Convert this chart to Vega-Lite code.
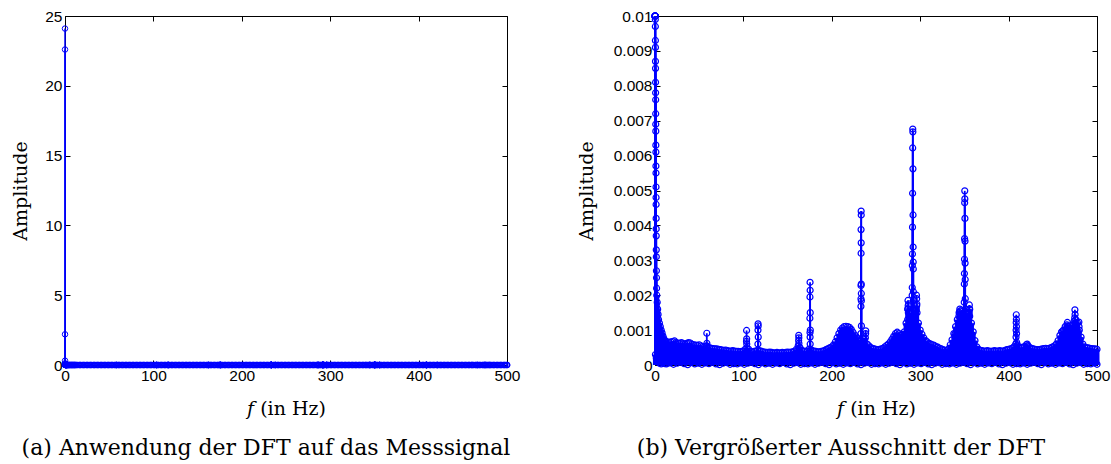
{
"$schema": "https://vega.github.io/schema/vega-lite/v6.json",
"background": "white",
"padding": {"left": 10, "top": 8, "right": 5, "bottom": 5},
"bounds": "flush",
"spacing": 148,
"config": {
  "view": {"stroke": "black", "strokeWidth": 1},
  "axis": {"domain": false, "grid": false, "ticks": true, "tickColor": "black", "tickSize": -5, "tickWidth": 1,
           "labelFont": "Liberation Sans", "labelFontSize": 15.5, "labelColor": "black", "labelPadding": 8, "labelFlush": false, "labelOverlap": false,
           "titleFont": "DejaVu Serif", "titleFontSize": 19, "titleFontWeight": "normal", "titleColor": "black"},
  "title": {"font": "DejaVu Serif", "fontSize": 22, "fontWeight": "normal", "color": "black"}
},
"datasets": {
"peaks": [
{"f":0,"a":24.1},{"f":0.02,"a":22.6},{"f":0.04,"a":2.2},{"f":0.06,"a":0.31},{"f":0.08,"a":0.12},{"f":0.1,"a":0.058},{"f":0.15,"a":0.031},{"f":0.2,"a":0.019},{"f":0.25,"a":0.0142},{"f":0.3,"a":0.0113},
{"f":0.35,"a":0.0099},{"f":0.4,"a":0.0097},{"f":0.45,"a":0.0093},{"f":0.5,"a":0.0091},{"f":0.55,"a":0.0087},{"f":0.6,"a":0.0085},{"f":0.65,"a":0.0081},{"f":0.7,"a":0.0078},{"f":0.75,"a":0.0076},{"f":0.8,"a":0.0072},
{"f":0.85,"a":0.0069},{"f":0.9,"a":0.0067},{"f":0.95,"a":0.0063},{"f":1.0,"a":0.0061},{"f":1.05,"a":0.0057},{"f":1.1,"a":0.0055},{"f":1.15,"a":0.0051},{"f":1.2,"a":0.0048},{"f":1.25,"a":0.0046},{"f":1.3,"a":0.0042},
{"f":1.35,"a":0.0039},{"f":1.4,"a":0.0037},{"f":1.45,"a":0.0033},{"f":1.5,"a":0.0031},{"f":1.6,"a":0.0027},{"f":1.7,"a":0.0025},{"f":1.8,"a":0.0022},
{"f":58.6,"a":0.00091},{"f":58.7,"a":0.00062},{"f":58.5,"a":0.00055},
{"f":103.6,"a":0.00099},{"f":103.7,"a":0.00075},{"f":103.5,"a":0.00068},{"f":103.8,"a":0.0006},
{"f":116.6,"a":0.00118},{"f":116.7,"a":0.00112},{"f":116.5,"a":0.001},{"f":116.8,"a":0.0008},{"f":116.4,"a":0.0006},
{"f":162.6,"a":0.00085},{"f":162.7,"a":0.00078},{"f":162.5,"a":0.0007},{"f":162.8,"a":0.00062},
{"f":175.4,"a":0.00237},{"f":175.5,"a":0.00214},{"f":175.3,"a":0.00195},{"f":175.6,"a":0.0015},{"f":175.2,"a":0.00134},{"f":175.7,"a":0.001},{"f":175.35,"a":0.00093},{"f":175.45,"a":0.0008},{"f":175.55,"a":0.0006},
{"f":233.2,"a":0.00441},{"f":233.3,"a":0.0043},{"f":233.1,"a":0.00388},{"f":233.25,"a":0.0035},{"f":233.15,"a":0.0032},{"f":233.35,"a":0.00232},{"f":233.05,"a":0.00228},{"f":233.4,"a":0.00205},{"f":233.0,"a":0.0019},{"f":233.45,"a":0.00184},{"f":232.95,"a":0.00168},{"f":233.5,"a":0.00112},{"f":232.9,"a":0.0009},
{"f":238.4,"a":0.00098},{"f":238.3,"a":0.0009},
{"f":286.2,"a":0.00185},{"f":286.4,"a":0.0017},{"f":286.0,"a":0.0016},{"f":286.6,"a":0.0015},{"f":285.8,"a":0.0013},{"f":287,"a":0.00175},{"f":287.4,"a":0.0014},
{"f":291.6,"a":0.00676},{"f":291.7,"a":0.00668},{"f":291.5,"a":0.00622},{"f":291.8,"a":0.00562},{"f":291.4,"a":0.00492},{"f":291.9,"a":0.0043},{"f":291.3,"a":0.00395},{"f":292,"a":0.00338},{"f":291.2,"a":0.00318},{"f":292.1,"a":0.00295},{"f":291.1,"a":0.00285},{"f":292.2,"a":0.00275},{"f":291,"a":0.00222},{"f":292.3,"a":0.0021},{"f":290.9,"a":0.002},{"f":292.4,"a":0.00185},
{"f":295.8,"a":0.002},{"f":296,"a":0.0019},{"f":296.2,"a":0.00175},{"f":295.6,"a":0.0016},{"f":296.4,"a":0.0015},
{"f":339.5,"a":0.0009},{"f":344.8,"a":0.0016},{"f":345.2,"a":0.00155},{"f":344.5,"a":0.0015},{"f":343.8,"a":0.0014},
{"f":350.4,"a":0.00499},{"f":350.5,"a":0.00476},{"f":350.3,"a":0.00465},{"f":350.6,"a":0.0042},{"f":350.2,"a":0.00362},{"f":350.7,"a":0.00355},{"f":350.1,"a":0.00303},{"f":350.8,"a":0.00292},{"f":350,"a":0.00262},{"f":350.9,"a":0.00245},{"f":349.9,"a":0.00232},{"f":351,"a":0.0019},{"f":349.8,"a":0.0018},{"f":351.1,"a":0.0016},
{"f":355.6,"a":0.00172},{"f":355.8,"a":0.0016},{"f":355.4,"a":0.0015},{"f":356,"a":0.0014},
{"f":408.7,"a":0.00144},{"f":408.8,"a":0.00131},{"f":408.6,"a":0.00122},{"f":408.9,"a":0.0011},{"f":408.5,"a":0.001},{"f":409,"a":0.0009},{"f":408.4,"a":0.0008},{"f":409.1,"a":0.00065},
{"f":421,"a":0.0006},{"f":421.2,"a":0.00055},{"f":460.3,"a":0.00095},{"f":466.5,"a":0.00122},{"f":466.7,"a":0.0011},
{"f":475,"a":0.00158},{"f":475.2,"a":0.00145},{"f":474.8,"a":0.00135},{"f":475.4,"a":0.0012},{"f":479.5,"a":0.00123},{"f":479.7,"a":0.0011}
],
"floor": [
{"f":2,"a":0.002},{"f":2.5,"a":0.0018},{"f":3,"a":0.0016},{"f":3.5,"a":0.00145},{"f":4,"a":0.0013},{"f":5,"a":0.0012},{"f":6,"a":0.0011},{"f":7,"a":0.001},{"f":8,"a":0.00092},{"f":9,"a":0.00083},{"f":10,"a":0.00076},{"f":11,"a":0.0007},
{"f":0.5,"a":0.0003},{"f":1.5,"a":0.0002},{"f":3,"a":0.0001},{"f":5,"a":0.00005},{"f":7,"a":0.00003},{"f":9,"a":0.00006},{"f":11,"a":0.00004},
{"f":12,"a":0.00068},{"f":14,"a":0.00066},{"f":16,"a":0.00065},{"f":18,"a":0.00066},{"f":20,"a":0.00067},{"f":22,"a":0.00069},{"f":24,"a":0.00064},{"f":26,"a":0.00063},{"f":28,"a":0.00062},{"f":30,"a":0.00064},
{"f":32,"a":0.00061},{"f":34,"a":0.0006},{"f":36,"a":0.00062},{"f":38,"a":0.00064},{"f":40,"a":0.00063},{"f":42,"a":0.00059},{"f":44,"a":0.00058},{"f":46,"a":0.00057},{"f":48,"a":0.00056},{"f":50,"a":0.00058},
{"f":52,"a":0.00055},{"f":54,"a":0.00053},{"f":56,"a":0.00052},{"f":58,"a":0.00054},{"f":60,"a":0.00051},{"f":62,"a":0.00049},{"f":64,"a":0.00048},{"f":66,"a":0.00047},{"f":68,"a":0.00046},{"f":70,"a":0.00046},
{"f":72,"a":0.00045},{"f":74,"a":0.00044},{"f":76,"a":0.00043},{"f":78,"a":0.00042},{"f":80,"a":0.00043},{"f":82,"a":0.00041},{"f":84,"a":0.0004},{"f":86,"a":0.0004},{"f":88,"a":0.00041},{"f":90,"a":0.0004},
{"f":92,"a":0.00039},{"f":94,"a":0.00039},{"f":96,"a":0.00038},{"f":98,"a":0.00039},{"f":100,"a":0.0004},{"f":102,"a":0.00045},{"f":104,"a":0.0005},{"f":106,"a":0.00045},{"f":108,"a":0.00039},{"f":110,"a":0.00038},
{"f":112,"a":0.00039},{"f":114,"a":0.0004},{"f":116,"a":0.00042},{"f":118,"a":0.00041},{"f":120,"a":0.0004},{"f":122,"a":0.00038},{"f":124,"a":0.00037},{"f":126,"a":0.00036},{"f":128,"a":0.00036},{"f":130,"a":0.00037},
{"f":132,"a":0.00036},{"f":134,"a":0.00035},{"f":136,"a":0.00035},{"f":138,"a":0.00036},{"f":140,"a":0.00035},{"f":142,"a":0.00035},{"f":144,"a":0.00036},{"f":146,"a":0.00035},{"f":148,"a":0.00036},{"f":150,"a":0.00037},
{"f":152,"a":0.00036},{"f":154,"a":0.00037},{"f":156,"a":0.00038},{"f":158,"a":0.0004},{"f":160,"a":0.00045},{"f":162,"a":0.00055},{"f":164,"a":0.0005},{"f":166,"a":0.00042},{"f":168,"a":0.0004},{"f":170,"a":0.00039},
{"f":172,"a":0.0004},{"f":174,"a":0.00045},{"f":176,"a":0.00045},{"f":178,"a":0.00041},{"f":180,"a":0.0004},{"f":182,"a":0.00039},{"f":184,"a":0.00038},{"f":186,"a":0.00038},{"f":188,"a":0.00039},{"f":190,"a":0.0004},
{"f":192,"a":0.00042},{"f":194,"a":0.00045},{"f":196,"a":0.00047},{"f":198,"a":0.0005},{"f":200,"a":0.00052},{"f":202,"a":0.00058},{"f":204,"a":0.00066},{"f":206,"a":0.00078},{"f":208,"a":0.0009},{"f":210,"a":0.001},
{"f":212,"a":0.00106},{"f":214,"a":0.0011},{"f":216,"a":0.00111},{"f":218,"a":0.0011},{"f":220,"a":0.00108},{"f":222,"a":0.00102},{"f":224,"a":0.00094},{"f":226,"a":0.00086},{"f":228,"a":0.0008},{"f":230,"a":0.00072},
{"f":232,"a":0.00068},{"f":234,"a":0.0007},{"f":236,"a":0.00075},{"f":238,"a":0.00078},{"f":240,"a":0.0006},{"f":242,"a":0.00055},{"f":244,"a":0.0005},{"f":246,"a":0.00048},{"f":248,"a":0.00046},{"f":250,"a":0.00045},
{"f":252,"a":0.00044},{"f":254,"a":0.00045},{"f":256,"a":0.00046},{"f":258,"a":0.00048},{"f":260,"a":0.00052},{"f":262,"a":0.00056},{"f":264,"a":0.0006},{"f":266,"a":0.00066},{"f":268,"a":0.00074},{"f":270,"a":0.00082},
{"f":272,"a":0.0009},{"f":274,"a":0.00094},{"f":276,"a":0.0009},{"f":278,"a":0.00084},{"f":280,"a":0.00088},{"f":282,"a":0.00095},{"f":284,"a":0.0012},{"f":286,"a":0.0016},{"f":288,"a":0.0015},{"f":290,"a":0.0014},
{"f":292,"a":0.0013},{"f":294,"a":0.0014},{"f":296,"a":0.0017},{"f":298,"a":0.0012},{"f":300,"a":0.001},{"f":302,"a":0.00088},{"f":304,"a":0.00078},{"f":306,"a":0.0007},{"f":308,"a":0.00066},{"f":310,"a":0.00062},
{"f":312,"a":0.0006},{"f":314,"a":0.00058},{"f":316,"a":0.00056},{"f":318,"a":0.00053},{"f":320,"a":0.00051},{"f":322,"a":0.00048},{"f":324,"a":0.00046},{"f":326,"a":0.00044},{"f":328,"a":0.00042},{"f":330,"a":0.00041},
{"f":332,"a":0.00046},{"f":334,"a":0.00058},{"f":336,"a":0.00072},{"f":338,"a":0.0009},{"f":340,"a":0.0011},{"f":342,"a":0.0013},{"f":344,"a":0.0015},{"f":346,"a":0.00155},{"f":348,"a":0.0014},{"f":350,"a":0.0013},
{"f":352,"a":0.0014},{"f":354,"a":0.0015},{"f":356,"a":0.0016},{"f":358,"a":0.0012},{"f":360,"a":0.00095},{"f":362,"a":0.0007},{"f":364,"a":0.00052},{"f":366,"a":0.00045},{"f":368,"a":0.00042},{"f":370,"a":0.00041},
{"f":372,"a":0.0004},{"f":374,"a":0.0004},{"f":376,"a":0.00041},{"f":378,"a":0.0004},{"f":380,"a":0.00039},{"f":382,"a":0.0004},{"f":384,"a":0.00041},{"f":386,"a":0.0004},{"f":388,"a":0.0004},{"f":390,"a":0.00041},
{"f":392,"a":0.0004},{"f":394,"a":0.0004},{"f":396,"a":0.00042},{"f":398,"a":0.00044},{"f":400,"a":0.00045},{"f":402,"a":0.00046},{"f":404,"a":0.00048},{"f":406,"a":0.00052},{"f":408,"a":0.0006},{"f":410,"a":0.00058},
{"f":412,"a":0.0005},{"f":414,"a":0.0005},{"f":416,"a":0.00051},{"f":418,"a":0.00052},{"f":420,"a":0.00058},{"f":422,"a":0.00055},{"f":424,"a":0.0005},{"f":426,"a":0.00048},{"f":428,"a":0.00046},{"f":430,"a":0.00045},
{"f":432,"a":0.00044},{"f":434,"a":0.00044},{"f":436,"a":0.00045},{"f":438,"a":0.00046},{"f":440,"a":0.00047},{"f":442,"a":0.00048},{"f":444,"a":0.00047},{"f":446,"a":0.00048},{"f":448,"a":0.0005},{"f":450,"a":0.00052},
{"f":452,"a":0.00055},{"f":454,"a":0.0006},{"f":456,"a":0.0007},{"f":458,"a":0.00085},{"f":460,"a":0.00095},{"f":462,"a":0.001},{"f":464,"a":0.0011},{"f":466,"a":0.00115},{"f":468,"a":0.0011},{"f":470,"a":0.00105},
{"f":472,"a":0.00115},{"f":474,"a":0.00125},{"f":476,"a":0.0013},{"f":478,"a":0.0012},{"f":480,"a":0.001},{"f":482,"a":0.0008},{"f":484,"a":0.0006},{"f":486,"a":0.00052},{"f":488,"a":0.0005},{"f":490,"a":0.00049},
{"f":492,"a":0.00048},{"f":494,"a":0.00047},{"f":496,"a":0.00046},{"f":498,"a":0.00046},{"f":500,"a":0.00045},
{"f":13,"a":0.00003},{"f":17,"a":0.00006},{"f":21,"a":0.00002},{"f":25,"a":0.00005},{"f":29,"a":0.00008},{"f":33,"a":0.00004},{"f":37,"a":0.00001},{"f":41,"a":0.00007},{"f":45,"a":0.00003},{"f":49,"a":0.00005},
{"f":53,"a":0.00002},{"f":57,"a":0.00006},{"f":61,"a":0.00004},{"f":65,"a":0.00008},{"f":69,"a":0.00003},{"f":73,"a":0.00001},{"f":77,"a":0.00005},{"f":81,"a":0.00007},{"f":85,"a":0.00002},{"f":89,"a":0.00004},
{"f":93,"a":0.00003},{"f":97,"a":0.00006},{"f":101,"a":0.00002},{"f":105,"a":0.00005},{"f":109,"a":0.00008},{"f":113,"a":0.00004},{"f":117,"a":0.00001},{"f":121,"a":0.00007},{"f":125,"a":0.00003},{"f":129,"a":0.00005},
{"f":133,"a":0.00002},{"f":137,"a":0.00006},{"f":141,"a":0.00004},{"f":145,"a":0.00008},{"f":149,"a":0.00003},{"f":153,"a":0.00001},{"f":157,"a":0.00005},{"f":161,"a":0.00007},{"f":165,"a":0.00002},{"f":169,"a":0.00004},
{"f":173,"a":0.00003},{"f":177,"a":0.00006},{"f":181,"a":0.00002},{"f":185,"a":0.00005},{"f":189,"a":0.00008},{"f":193,"a":0.00004},{"f":197,"a":0.00001},{"f":201,"a":0.00007},{"f":205,"a":0.00003},{"f":209,"a":0.00005},
{"f":213,"a":0.00002},{"f":217,"a":0.00006},{"f":221,"a":0.00004},{"f":225,"a":0.00008},{"f":229,"a":0.00003},{"f":233,"a":0.00001},{"f":237,"a":0.00005},{"f":241,"a":0.00007},{"f":245,"a":0.00002},{"f":249,"a":0.00004},
{"f":253,"a":0.00003},{"f":257,"a":0.00006},{"f":261,"a":0.00002},{"f":265,"a":0.00005},{"f":269,"a":0.00008},{"f":273,"a":0.00004},{"f":277,"a":0.00001},{"f":281,"a":0.00007},{"f":285,"a":0.00003},{"f":289,"a":0.00005},
{"f":293,"a":0.00002},{"f":297,"a":0.00006},{"f":301,"a":0.00004},{"f":305,"a":0.00008},{"f":309,"a":0.00003},{"f":313,"a":0.00001},{"f":317,"a":0.00005},{"f":321,"a":0.00007},{"f":325,"a":0.00002},{"f":329,"a":0.00004},
{"f":333,"a":0.00003},{"f":337,"a":0.00006},{"f":341,"a":0.00002},{"f":345,"a":0.00005},{"f":349,"a":0.00008},{"f":353,"a":0.00004},{"f":357,"a":0.00001},{"f":361,"a":0.00007},{"f":365,"a":0.00003},{"f":369,"a":0.00005},
{"f":373,"a":0.00002},{"f":377,"a":0.00006},{"f":381,"a":0.00004},{"f":385,"a":0.00008},{"f":389,"a":0.00003},{"f":393,"a":0.00001},{"f":397,"a":0.00005},{"f":401,"a":0.00007},{"f":405,"a":0.00002},{"f":409,"a":0.00004},
{"f":413,"a":0.00003},{"f":417,"a":0.00006},{"f":421,"a":0.00002},{"f":425,"a":0.00005},{"f":429,"a":0.00008},{"f":433,"a":0.00004},{"f":437,"a":0.00001},{"f":441,"a":0.00007},{"f":445,"a":0.00003},{"f":449,"a":0.00005},
{"f":453,"a":0.00002},{"f":457,"a":0.00006},{"f":461,"a":0.00004},{"f":465,"a":0.00008},{"f":469,"a":0.00003},{"f":473,"a":0.00001},{"f":477,"a":0.00005},{"f":481,"a":0.00007},{"f":485,"a":0.00002},{"f":489,"a":0.00004},
{"f":493,"a":0.00003},{"f":497,"a":0.00006},{"f":500,"a":0.00002}
]
},
"hconcat": [
{
  "width": 442, "height": 349,
  "title": {"text": "(a) Anwendung der DFT auf das Messsignal", "orient": "bottom", "offset": 30, "baseline": "middle", "dx": -20},
  "resolve": {"axis": {"x": "independent", "y": "independent"}},
  "layer": [
    {"data": {"name": "floor"},
     "mark": {"type": "rule", "color": "#0000ff", "strokeWidth": 5},
     "encoding": {
       "x": {"field": "f", "type": "quantitative", "scale": {"domain": [0, 500], "nice": false, "zero": false},
             "axis": {"orient": "bottom", "values": [0, 100, 200, 300, 400, 500], "title": "𝑓 (in Hz)", "titleY": 43, "titleBaseline": "middle"}},
       "y": {"field": "a", "type": "quantitative", "scale": {"domain": [0, 25], "nice": false},
             "axis": {"orient": "left", "values": [0, 5, 10, 15, 20, 25], "title": "Amplitude", "titleX": -45, "titleBaseline": "middle"}},
       "y2": {"datum": 0}
     }},
    {"data": {"name": "peaks"},
     "mark": {"type": "rule", "color": "#0000ff", "strokeWidth": 1.5},
     "encoding": {
       "x": {"field": "f", "type": "quantitative", "axis": null},
       "y": {"field": "a", "type": "quantitative", "axis": null},
       "y2": {"datum": 0}
     }},
    {"data": {"name": "floor"},
     "mark": {"type": "point", "shape": "circle", "filled": false, "color": "#0000ff", "size": 30, "strokeWidth": 1.2, "opacity": 1},
     "encoding": {
       "x": {"field": "f", "type": "quantitative", "axis": {"orient": "top", "labels": false, "title": null, "values": [0, 100, 200, 300, 400, 500]}},
       "y": {"field": "a", "type": "quantitative", "axis": {"orient": "right", "labels": false, "title": null, "values": [0, 5, 10, 15, 20, 25]}}
     }},
    {"data": {"name": "peaks"},
     "mark": {"type": "point", "shape": "circle", "filled": false, "color": "#0000ff", "size": 30, "strokeWidth": 1, "opacity": 1},
     "encoding": {
       "x": {"field": "f", "type": "quantitative", "axis": null},
       "y": {"field": "a", "type": "quantitative", "axis": null}
     }},
    {"mark": {"type": "rule", "color": "black", "strokeWidth": 1.5},
     "encoding": {"y": {"datum": 0, "axis": null}}}
  ]
},
{
  "width": 442, "height": 349,
  "title": {"text": "(b) Vergrößerter Ausschnitt der DFT", "orient": "bottom", "offset": 30, "baseline": "middle", "dx": -35},
  "resolve": {"axis": {"x": "independent", "y": "independent"}},
  "layer": [
    {"data": {"name": "floor"},
     "mark": {"type": "rule", "color": "#0000ff", "strokeWidth": 5},
     "encoding": {
       "x": {"field": "f", "type": "quantitative", "scale": {"domain": [0, 500], "nice": false, "zero": false},
             "axis": {"orient": "bottom", "values": [0, 100, 200, 300, 400, 500], "title": "𝑓 (in Hz)", "titleY": 43, "titleBaseline": "middle"}},
       "y": {"field": "a", "type": "quantitative", "scale": {"domain": [0, 0.01], "nice": false, "clamp": true},
             "axis": {"orient": "left", "values": [0, 0.001, 0.002, 0.003, 0.004, 0.005, 0.006, 0.007, 0.008, 0.009, 0.01], "format": "~g", "title": "Amplitude", "titleX": -69, "titleBaseline": "middle"}},
       "y2": {"datum": 0}
     }},
    {"data": {"name": "peaks"},
     "mark": {"type": "rule", "color": "#0000ff", "strokeWidth": 1.8},
     "encoding": {
       "x": {"field": "f", "type": "quantitative", "axis": null},
       "y": {"field": "a", "type": "quantitative", "axis": null},
       "y2": {"datum": 0}
     }},
    {"data": {"name": "floor"},
     "mark": {"type": "point", "shape": "circle", "filled": false, "color": "#0000ff", "size": 36, "strokeWidth": 1.2, "opacity": 1},
     "encoding": {
       "x": {"field": "f", "type": "quantitative", "axis": {"orient": "top", "labels": false, "title": null, "values": [0, 100, 200, 300, 400, 500]}},
       "y": {"field": "a", "type": "quantitative", "axis": {"orient": "right", "labels": false, "title": null, "values": [0, 0.001, 0.002, 0.003, 0.004, 0.005, 0.006, 0.007, 0.008, 0.009, 0.01]}}
     }},
    {"data": {"name": "peaks"},
     "mark": {"type": "point", "shape": "circle", "filled": false, "color": "#0000ff", "size": 36, "strokeWidth": 1.2, "opacity": 1},
     "encoding": {
       "x": {"field": "f", "type": "quantitative", "axis": null},
       "y": {"field": "a", "type": "quantitative", "axis": null}
     }},
    {"mark": {"type": "rule", "color": "black", "strokeWidth": 1.5},
     "encoding": {"y": {"datum": 0, "axis": null}}}
  ]
}
]
}
